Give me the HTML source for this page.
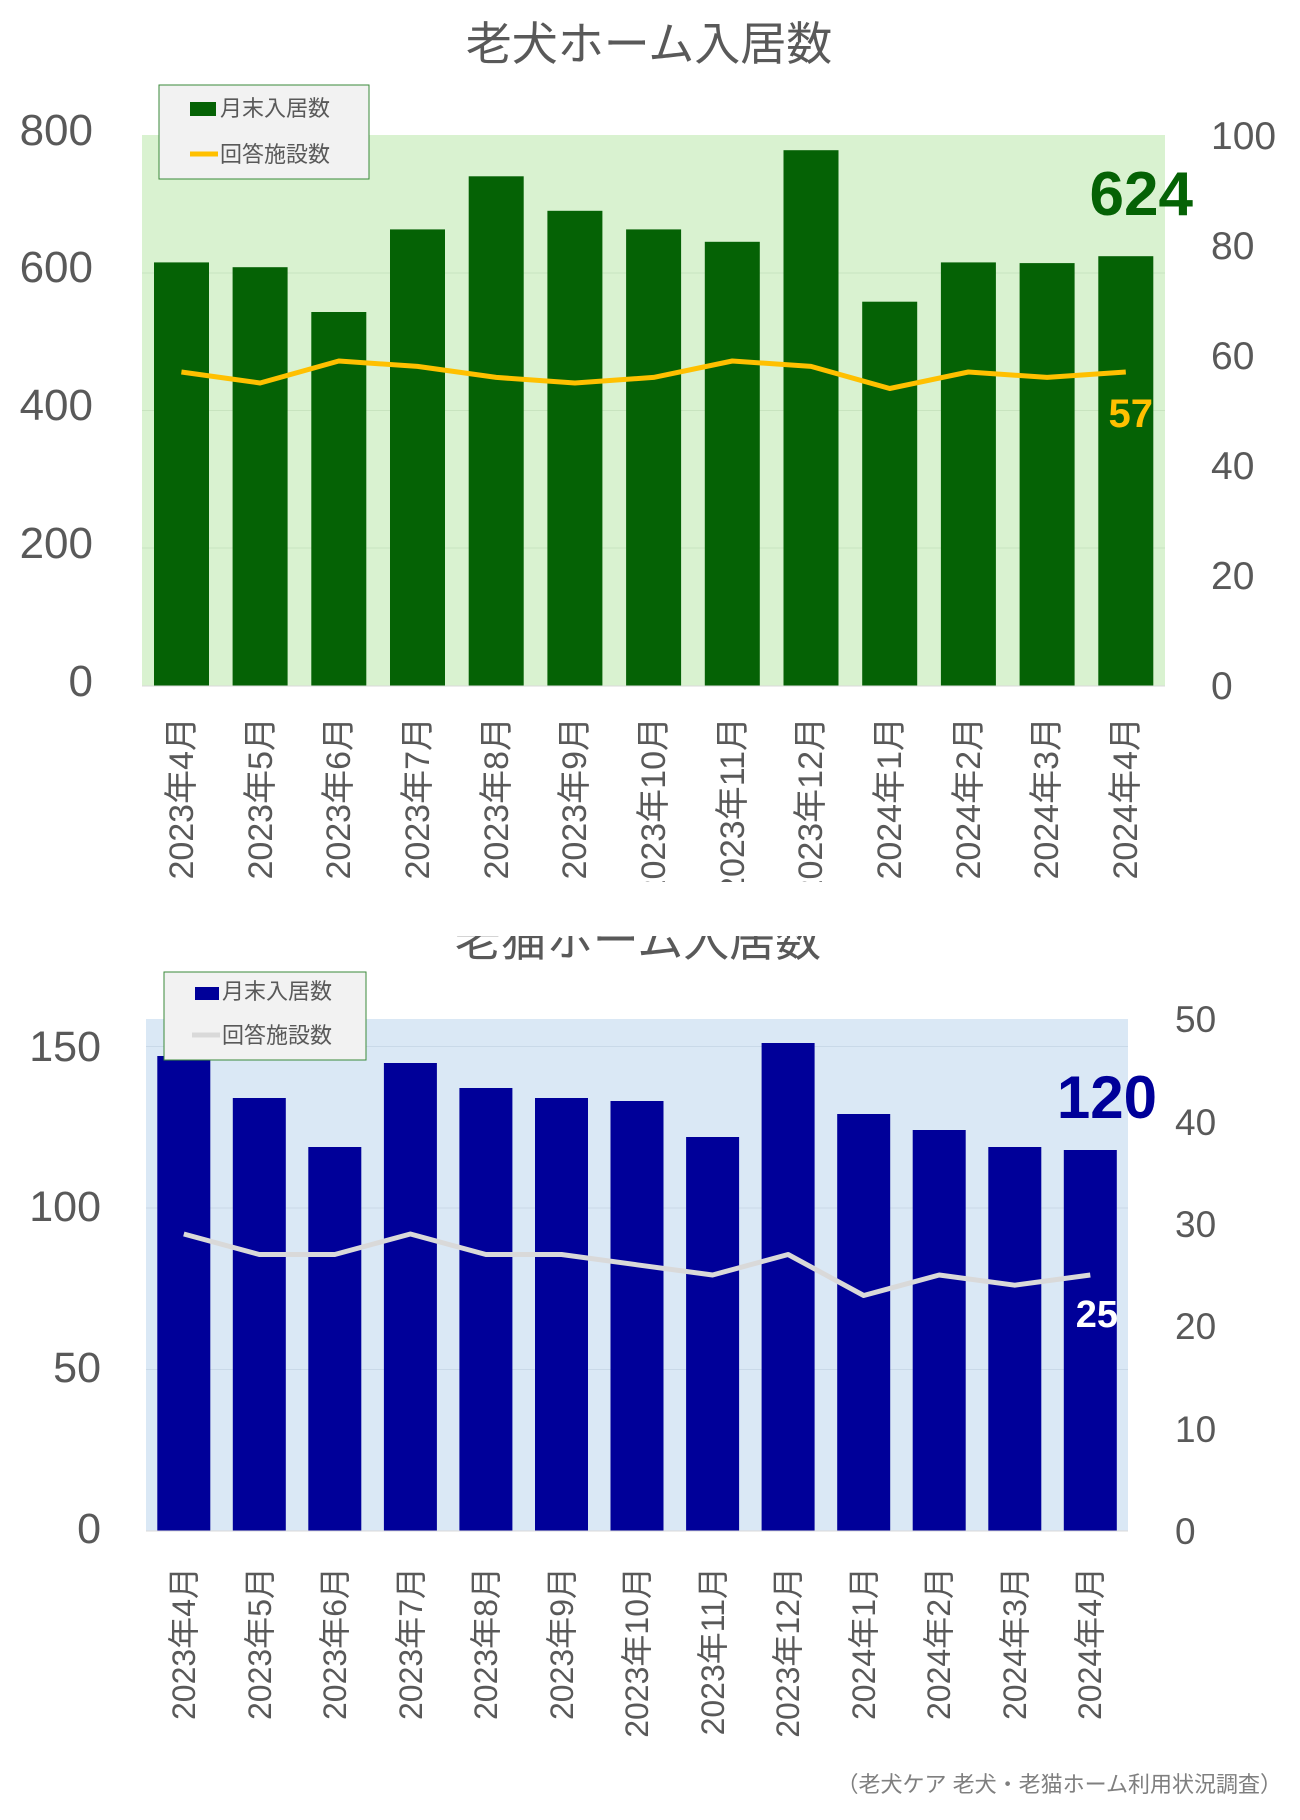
<!DOCTYPE html>
<html><head><meta charset="utf-8"><style>
body{margin:0;background:#fff;}
svg text{font-family:"Liberation Sans","Noto Sans CJK JP",sans-serif;}
</style></head><body>
<svg width="1300" height="1815" viewBox="0 0 1300 1815" xmlns="http://www.w3.org/2000/svg">
<defs>
<clipPath id="c1"><rect x="0" y="0" width="1300" height="882"/></clipPath>
<clipPath id="c2"><rect x="0" y="936" width="1300" height="900"/></clipPath>
</defs>
<!-- Chart 1 -->
<text x="649" y="60" font-size="46" fill="#595959" text-anchor="middle">老犬ホーム入居数</text>
<rect x="142" y="135" width="1023" height="551" fill="#d9f2d0"/>
<g stroke="#c8e4bf" stroke-width="1"><line x1="142" x2="1165" y1="548" y2="548"/><line x1="142" x2="1165" y1="410.5" y2="410.5"/><line x1="142" x2="1165" y1="273" y2="273"/></g>
<g fill="#056205">
<rect x="154" y="262.4" width="55" height="423.6"/><rect x="232.6" y="267.2" width="55" height="418.8"/><rect x="311.3" y="312" width="55" height="374"/><rect x="390" y="229.4" width="55" height="456.6"/><rect x="468.7" y="176.3" width="55" height="509.7"/><rect x="547.4" y="210.8" width="55" height="475.2"/><rect x="626.1" y="229.4" width="55" height="456.6"/><rect x="704.8" y="241.8" width="55" height="444.2"/><rect x="783.5" y="150.2" width="55" height="535.8"/><rect x="862.2" y="301.7" width="55" height="384.3"/><rect x="940.9" y="262.4" width="55" height="423.6"/><rect x="1019.6" y="263.1" width="55" height="422.9"/><rect x="1098.3" y="256.2" width="55" height="429.8"/>
</g>
<line x1="142" x2="1165" y1="686" y2="686" stroke="#d9d9d9"/>
<polyline fill="none" stroke="#ffc000" stroke-width="5" stroke-linejoin="round" points="181.4,372 260.1,383 338.8,361 417.5,366.4 496.2,377.4 574.9,383 653.6,377.4 732.3,361 811,366.4 889.7,388.5 968.4,372 1047.1,377.4 1125.8,372"/>
<g font-size="44" fill="#595959" text-anchor="end"><text x="93" y="145">800</text><text x="93" y="282">600</text><text x="93" y="420">400</text><text x="93" y="558">200</text><text x="93" y="696">0</text></g>
<g font-size="39" fill="#595959"><text x="1211" y="149">100</text><text x="1211" y="259">80</text><text x="1211" y="369">60</text><text x="1211" y="479">40</text><text x="1211" y="589">20</text><text x="1211" y="699">0</text></g>
<text x="1193" y="215" font-size="62" font-weight="bold" fill="#056205" text-anchor="end">624</text>
<text x="1153" y="427" font-size="40" font-weight="bold" fill="#ffc000" text-anchor="end">57</text>
<rect x="159" y="85" width="210" height="94" fill="#f2f2f2" stroke="#3a8a3a"/>
<rect x="190" y="102" width="26" height="14" fill="#056205"/>
<text x="220" y="116" font-size="22" fill="#595959">月末入居数</text>
<line x1="190" x2="218" y1="154" y2="154" stroke="#ffc000" stroke-width="5"/>
<text x="220" y="162" font-size="22" fill="#595959">回答施設数</text>
<g clip-path="url(#c1)" font-size="34" fill="#595959" text-anchor="end">
<text transform="translate(193,717) rotate(-90)">2023年4月</text><text transform="translate(272,717) rotate(-90)">2023年5月</text><text transform="translate(350,717) rotate(-90)">2023年6月</text><text transform="translate(429,717) rotate(-90)">2023年7月</text><text transform="translate(508,717) rotate(-90)">2023年8月</text><text transform="translate(586,717) rotate(-90)">2023年9月</text><text transform="translate(665,717) rotate(-90)">2023年10月</text><text transform="translate(744,717) rotate(-90)">2023年11月</text><text transform="translate(822,717) rotate(-90)">2023年12月</text><text transform="translate(901,717) rotate(-90)">2024年1月</text><text transform="translate(980,717) rotate(-90)">2024年2月</text><text transform="translate(1058,717) rotate(-90)">2024年3月</text><text transform="translate(1137,717) rotate(-90)">2024年4月</text>
</g>
<!-- Chart 2 -->
<text x="638" y="956" font-size="46" fill="#595959" text-anchor="middle" clip-path="url(#c2)">老猫ホーム入居数</text>
<rect x="146" y="1019" width="982" height="512" fill="#dae8f5"/>
<g stroke="#c9d9e8" stroke-width="1"><line x1="146" x2="1128" y1="1369.5" y2="1369.5"/><line x1="146" x2="1128" y1="1208" y2="1208"/><line x1="146" x2="1128" y1="1046.5" y2="1046.5"/></g>
<g fill="#000099">
<rect x="157.3" y="1056" width="53" height="475"/><rect x="232.8" y="1098" width="53" height="433"/><rect x="308.3" y="1147" width="53" height="384"/><rect x="383.9" y="1063" width="53" height="468"/><rect x="459.4" y="1088" width="53" height="443"/><rect x="535" y="1098" width="53" height="433"/><rect x="610.5" y="1101" width="53" height="430"/><rect x="686.1" y="1137" width="53" height="394"/><rect x="761.6" y="1043" width="53" height="488"/><rect x="837.2" y="1114" width="53" height="417"/><rect x="912.7" y="1130" width="53" height="401"/><rect x="988.3" y="1147" width="53" height="384"/><rect x="1063.8" y="1150" width="53" height="381"/>
</g>
<line x1="146" x2="1128" y1="1531" y2="1531" stroke="#d9d9d9"/>
<polyline fill="none" stroke="#d9d9d9" stroke-width="5" stroke-linejoin="round" points="183.8,1234 259.3,1254.5 334.8,1254.5 410.4,1234 485.9,1254.5 561.5,1254.5 637,1264.8 712.6,1275 788.1,1254.5 863.7,1295.5 939.2,1275 1014.8,1285.2 1090.3,1275"/>
<g font-size="43" fill="#595959" text-anchor="end"><text x="101" y="1061">150</text><text x="101" y="1221">100</text><text x="101" y="1382">50</text><text x="101" y="1543">0</text></g>
<g font-size="37" fill="#595959"><text x="1175" y="1032">50</text><text x="1175" y="1135">40</text><text x="1175" y="1237">30</text><text x="1175" y="1339">20</text><text x="1175" y="1442">10</text><text x="1175" y="1544">0</text></g>
<text x="1157" y="1118" font-size="60" font-weight="bold" fill="#000099" text-anchor="end">120</text>
<text x="1118" y="1327" font-size="38" font-weight="bold" fill="#ffffff" text-anchor="end">25</text>
<rect x="164" y="972" width="202" height="88" fill="#f2f2f2" stroke="#3a8a3a"/>
<rect x="195" y="987" width="24" height="13" fill="#000099"/>
<text x="222" y="999" font-size="22" fill="#595959">月末入居数</text>
<line x1="192" x2="220" y1="1035" y2="1035" stroke="#d9d9d9" stroke-width="5"/>
<text x="222" y="1043" font-size="22" fill="#595959">回答施設数</text>
<g font-size="32" fill="#595959" text-anchor="end">
<text transform="translate(195,1567) rotate(-90)">2023年4月</text><text transform="translate(271,1567) rotate(-90)">2023年5月</text><text transform="translate(346,1567) rotate(-90)">2023年6月</text><text transform="translate(422,1567) rotate(-90)">2023年7月</text><text transform="translate(497,1567) rotate(-90)">2023年8月</text><text transform="translate(573,1567) rotate(-90)">2023年9月</text><text transform="translate(648,1567) rotate(-90)">2023年10月</text><text transform="translate(724,1567) rotate(-90)">2023年11月</text><text transform="translate(799,1567) rotate(-90)">2023年12月</text><text transform="translate(875,1567) rotate(-90)">2024年1月</text><text transform="translate(950,1567) rotate(-90)">2024年2月</text><text transform="translate(1026,1567) rotate(-90)">2024年3月</text><text transform="translate(1101,1567) rotate(-90)">2024年4月</text>
</g>
<text x="1282" y="1792" font-size="22" fill="#7f7f7f" text-anchor="end">（老犬ケア 老犬・老猫ホーム利用状況調査）</text>
</svg>
</body></html>
